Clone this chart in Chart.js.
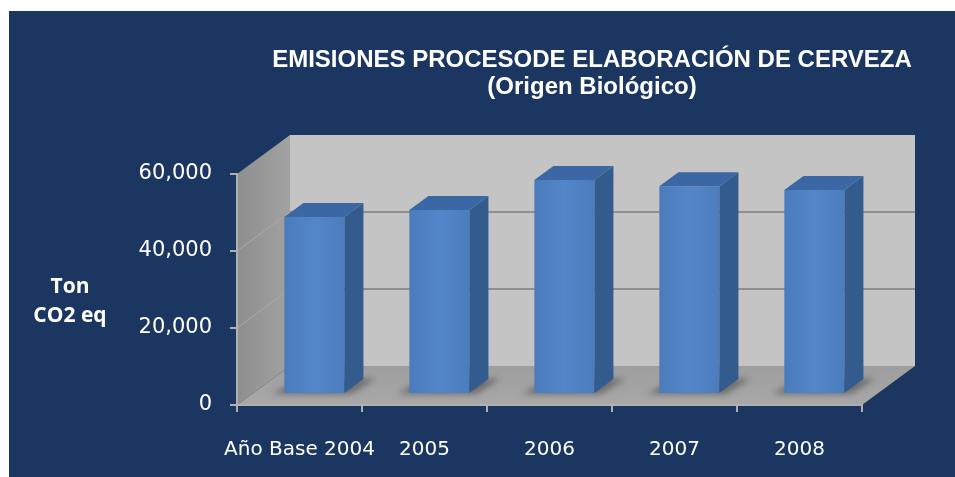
<!DOCTYPE html>
<html>
<head>
<script src="https://cdn.jsdelivr.net/npm/chart.js"></script>
<style>
  html, body { margin: 0; padding: 0; background: #ffffff; }
  #chart { display: block; }
</style>
</head>
<body>
<canvas id="chart" width="955" height="477"></canvas>
<script>
  const CATEGORIES = ['Año Base 2004', '2005', '2006', '2007', '2008'];
  const EMISSIONS = [46000, 47800, 55600, 54000, 53000];
  const Y_MAX = 60000;
  const Y_STEP = 20000;
  const TITLE_LINES = ['EMISIONES PROCESODE ELABORACIÓN DE CERVEZA', '(Origen Biológico)'];
  const UNIT_LINES = ['Ton', 'CO2 eq'];

  const NAVY = '#1b3660';
  const AXIS_GRAY = '#b0b0b0';
  // depth of the 3d box (back wall offset) and where the bars sit inside it
  const DEPTH_X = 53;
  const DEPTH_Y = 39;
  const BAR_FRONT = 0.28;
  const BAR_DEPTH = 0.36;

  const poly = (ctx, pts, fill) => {
    ctx.beginPath();
    ctx.moveTo(pts[0][0], pts[0][1]);
    for (let i = 1; i < pts.length; i++) ctx.lineTo(pts[i][0], pts[i][1]);
    ctx.closePath();
    ctx.fillStyle = fill;
    ctx.fill();
  };

  // background, walls, floor and back grid
  const panel3d = {
    id: 'panel3d',
    beforeDraw(chart) {
      const { ctx, chartArea: a, scales: { y } } = chart;
      ctx.save();
      ctx.fillStyle = '#ffffff';
      ctx.fillRect(0, 0, chart.width, chart.height);
      ctx.fillStyle = NAVY;
      ctx.fillRect(9, 11, chart.width - 9, chart.height - 11);

      const top = y.getPixelForValue(Y_MAX);
      const bot = y.getPixelForValue(0);
      const L = a.left, R = a.right;

      poly(ctx, [[L + DEPTH_X, top - DEPTH_Y], [R + DEPTH_X, top - DEPTH_Y], [R + DEPTH_X, bot - DEPTH_Y], [L + DEPTH_X, bot - DEPTH_Y]], '#c4c4c4');

      const side = ctx.createLinearGradient(L, 0, L + DEPTH_X, 0);
      side.addColorStop(0, '#8e8e8e');
      side.addColorStop(1, '#a2a2a2');
      poly(ctx, [[L, top], [L + DEPTH_X, top - DEPTH_Y], [L + DEPTH_X, bot - DEPTH_Y], [L, bot]], side);

      const floor = ctx.createLinearGradient(0, bot, 0, bot - DEPTH_Y);
      floor.addColorStop(0, '#a8a8a8');
      floor.addColorStop(1, '#9e9e9e');
      poly(ctx, [[L, bot], [L + DEPTH_X, bot - DEPTH_Y], [R + DEPTH_X, bot - DEPTH_Y], [R, bot]], floor);

      y.ticks.forEach(t => {
        if (t.value === 0 || t.value === Y_MAX) return;
        const py = y.getPixelForValue(t.value);
        ctx.strokeStyle = '#8f8f8f';
        ctx.lineWidth = 2;
        ctx.beginPath();
        ctx.moveTo(L + DEPTH_X, py - DEPTH_Y);
        ctx.lineTo(R + DEPTH_X, py - DEPTH_Y);
        ctx.stroke();
        ctx.strokeStyle = '#a9a9a9';
        ctx.lineWidth = 1;
        ctx.beginPath();
        ctx.moveTo(L, py);
        ctx.lineTo(L + DEPTH_X, py - DEPTH_Y);
        ctx.stroke();
      });
      ctx.restore();
    }
  };

  // 3d boxes drawn from the bar elements
  const bars3d = {
    id: 'bars3d',
    afterDatasetsDraw(chart) {
      const ctx = chart.ctx;
      const meta = chart.getDatasetMeta(0);
      const fx = BAR_FRONT * DEPTH_X, fy = BAR_FRONT * DEPTH_Y;
      const dx = BAR_DEPTH * DEPTH_X, dy = BAR_DEPTH * DEPTH_Y;

      ctx.save();
      ctx.filter = 'blur(3px)';
      meta.data.forEach(el => {
        const x1 = el.x - el.width / 2 + fx, x2 = el.x + el.width / 2 + fx, b = el.base - fy;
        poly(ctx, [[x1 - 12, b + 1], [x2 + 6, b + 1], [x2 + dx + 12, b - dy], [x1 + dx - 4, b - dy]], 'rgba(70,70,70,0.6)');
      });
      ctx.restore();

      ctx.save();
      meta.data.forEach(el => {
        const x1 = el.x - el.width / 2 + fx, x2 = el.x + el.width / 2 + fx;
        const t = el.y - fy, b = el.base - fy;
        const front = ctx.createLinearGradient(x1, 0, x2, 0);
        front.addColorStop(0, '#4a7cbd');
        front.addColorStop(0.5, '#5386c8');
        front.addColorStop(1, '#4b7dbe');
        poly(ctx, [[x1, t], [x2, t], [x2, b], [x1, b]], front);
        poly(ctx, [[x2, t], [x2 + dx, t - dy], [x2 + dx, b - dy], [x2, b]], '#345b8e');
        poly(ctx, [[x1, t], [x1 + dx, t - dy], [x2 + dx, t - dy], [x2, t]], '#3b67a4');
      });
      ctx.restore();
    }
  };

  // title and unit label
  const texts = {
    id: 'texts',
    afterDraw(chart) {
      const ctx = chart.ctx;
      ctx.save();
      ctx.fillStyle = '#ffffff';
      ctx.textAlign = 'center';
      ctx.textBaseline = 'middle';
      ctx.font = 'bold 24px "Liberation Sans", Arial, sans-serif';
      ctx.fillText(TITLE_LINES[0], 592, 60);
      ctx.fillText(TITLE_LINES[1], 592, 87);
      ctx.font = 'bold 21px "Open Sans", sans-serif';
      ctx.fillText(UNIT_LINES[0], 70, 287);
      ctx.fillText(UNIT_LINES[1], 70, 316);
      ctx.restore();
    }
  };

  new Chart(document.getElementById('chart'), {
    type: 'bar',
    data: {
      labels: CATEGORIES,
      datasets: [{
        data: EMISSIONS,
        backgroundColor: 'rgba(0,0,0,0)',
        borderWidth: 0,
        barPercentage: 0.48,
        categoryPercentage: 1
      }]
    },
    options: {
      responsive: false,
      animation: false,
      devicePixelRatio: 1,
      layout: { padding: { top: 174, right: 93, left: 0, bottom: 0 } },
      plugins: {
        legend: { display: false },
        title: { display: false },
        tooltip: { enabled: false }
      },
      scales: {
        x: {
          grid: { offset: true, drawOnChartArea: false, tickLength: 7, color: AXIS_GRAY, lineWidth: 2 },
          border: { color: AXIS_GRAY, width: 2 },
          ticks: {
            color: '#ffffff',
            font: { family: 'DejaVu Sans', size: 20 },
            padding: 26,
            maxRotation: 0,
            autoSkip: false
          },
          afterFit: s => { s.height = 72; }
        },
        y: {
          min: 0,
          max: Y_MAX,
          grid: { drawOnChartArea: false, tickLength: 7, color: AXIS_GRAY, lineWidth: 2 },
          border: { color: AXIS_GRAY, width: 2 },
          ticks: {
            stepSize: Y_STEP,
            color: '#ffffff',
            font: { family: 'DejaVu Sans', size: 21 },
            padding: 18,
            callback: v => v.toLocaleString('en-US')
          },
          afterFit: s => { s.width = 237; }
        }
      }
    },
    plugins: [panel3d, bars3d, texts]
  });
</script>
</body>
</html>
